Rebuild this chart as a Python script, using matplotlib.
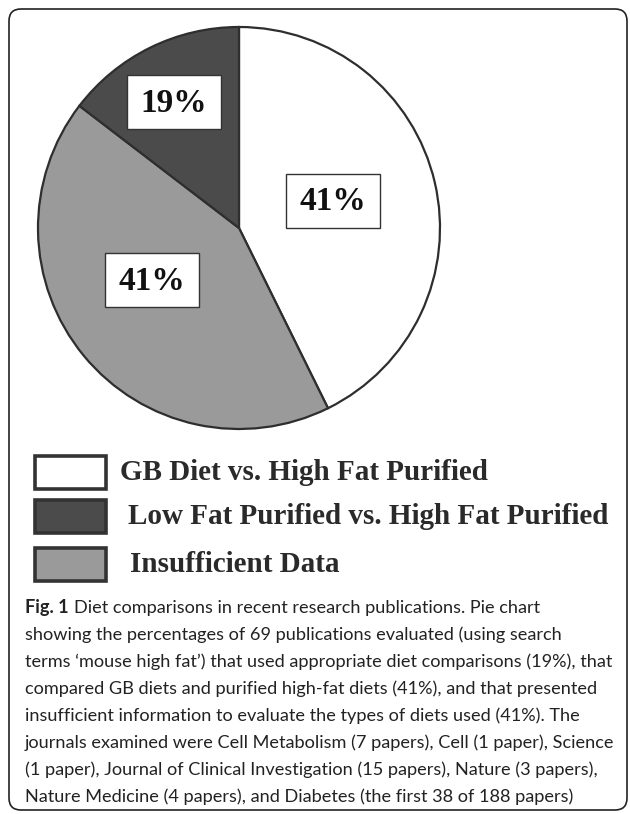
import numpy as np
import matplotlib.pyplot as plt
from matplotlib.patches import Rectangle, FancyBboxPatch

# categories in legend order
categories = ['GB Diet vs. High Fat Purified',
              'Low Fat Purified vs. High Fat Purified',
              'Insufficient Data']
shares = [42.7, 14.6, 42.7]        # wedge sizes as drawn in the figure
pct_labels = ['41%', '19%', '41%']  # printed labels
colors = ['#ffffff', '#4b4b4b', '#9a9a9a']
pie_order = [0, 2, 1]  # clockwise from 12 o'clock

caption = [
    'Diet comparisons in recent research publications. Pie chart',
    'showing the percentages of 69 publications evaluated (using search',
    'terms \u2018mouse high fat\u2019) that used appropriate diet comparisons (19%), that',
    'compared GB diets and purified high-fat diets (41%), and that presented',
    'insufficient information to evaluate the types of diets used (41%). The',
    'journals examined were Cell Metabolism (7 papers), Cell (1 paper), Science',
    '(1 paper), Journal of Clinical Investigation (15 papers), Nature (3 papers),',
    'Nature Medicine (4 papers), and Diabetes (the first 38 of 188 papers)',
]

W, H = 630, 814
fig = plt.figure(figsize=(W / 100, H / 100), dpi=100)
ax = fig.add_axes([0, 0, 1, 1])

# pie (y axis is flipped below, so counterclock=True reads clockwise)
ax.pie([shares[i] for i in pie_order],
       colors=[colors[i] for i in pie_order],
       center=(239, 228), radius=201,
       startangle=-90, counterclock=True,
       wedgeprops=dict(edgecolor='#2e2e2e', linewidth=1.6))
ax.set_xlim(0, W)
ax.set_ylim(H, 0)
ax.set_aspect('auto')
ax.axis('off')

# percentage boxes
label_pos = [(333, 201), (174, 102), (152, 280)]
for (cx, cy), lab in zip(label_pos, pct_labels):
    ax.add_patch(Rectangle((cx - 47, cy - 27), 94, 54, facecolor='white',
                           edgecolor='#333333', linewidth=1.0, zorder=3))
    ax.text(cx, cy + 1, lab, ha='center', va='center', fontsize=24,
            fontweight='bold', family='Liberation Serif', color='#111111', zorder=4)

# legend
box_top = [456, 500, 548]
text_x = [120, 128, 130]
for i, name in enumerate(categories):
    ax.add_patch(Rectangle((35, box_top[i]), 71, 33, facecolor=colors[i],
                           edgecolor='#333333', linewidth=2.6, zorder=3))
    ax.text(text_x[i], box_top[i] + 17, name, ha='left', va='center',
            fontsize=21, fontweight='bold', family='Liberation Serif',
            color='#2a2a2a')

# caption, sized so the longest line spans about 589 px like the original
cap_font = 'Lato'
line_y = [608, 635, 662, 689, 716, 743, 770, 797]
fig.canvas.draw()
r = fig.canvas.get_renderer()
probe = ax.text(25, 0, caption[2], fontsize=13.5, family=cap_font)
cap_size = 13.5 * 589 / probe.get_window_extent(r).width
probe.remove()

fig_txt = ax.text(25, line_y[0], 'Fig. 1', ha='left', va='center', fontsize=cap_size,
                  fontweight='bold', family=cap_font, color='#222222')
bb = fig_txt.get_window_extent(r)
x0 = 25 + bb.width + 5
for i, line in enumerate(caption):
    ax.text(x0 if i == 0 else 25, line_y[i], line, ha='left', va='center',
            fontsize=cap_size, family=cap_font, color='#222222')

# frame around the figure
ax.add_patch(FancyBboxPatch((9, 9), 618, 801,
                            boxstyle='round,pad=0,rounding_size=12',
                            facecolor='none', edgecolor='#222222', linewidth=1.2))

fig.savefig('out.png', dpi=100)
